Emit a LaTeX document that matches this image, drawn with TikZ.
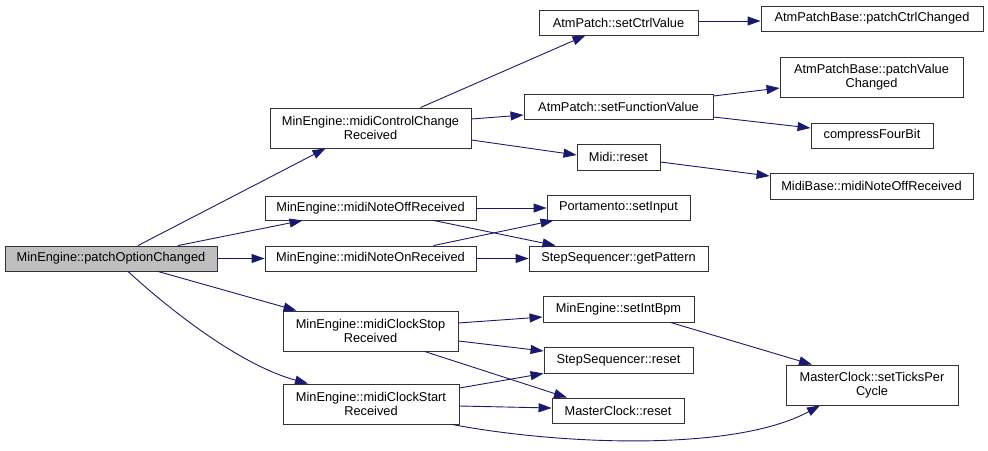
\documentclass[tikz,border=0pt]{standalone}
\usepackage{fontspec}
\setmainfont{Liberation Sans}
\usepackage{xcolor}
\usetikzlibrary{arrows.meta}
\definecolor{edgeblue}{HTML}{191970}
\definecolor{rootgray}{HTML}{BFBFBF}

\begin{document}
\begin{tikzpicture}[x=1pt,y=-1pt,
  fn/.style={draw=black!80,line width=0.9pt,inner sep=0pt,align=center,
    font=\fontsize{12.8}{14.5}\selectfont,minimum height=25pt},
  fntwo/.style={fn,minimum height=40pt},
  call/.style={draw=edgeblue,line width=0.9pt,
    -{Triangle[length=13pt,width=9pt]}}]
  \useasboundingbox (0,0) rectangle (988,450);
  \node[fn,fill=rootgray,minimum width=212pt] (poc) at (111,258.5)
    {MinEngine::patchOptionChanged};
  \node[fntwo,minimum width=201pt] (mcc) at (370.5,128)
    {MinEngine::midiControlChange\\Received};
  \node[fn,minimum width=211pt,minimum height=24pt] (noteOff) at (370.5,208)
    {MinEngine::midiNoteOffReceived};
  \node[fn,minimum width=211pt] (noteOn) at (370.5,258.5)
    {MinEngine::midiNoteOnReceived};
  \node[fntwo,minimum width=175pt] (clkStop) at (370.5,331)
    {MinEngine::midiClockStop\\Received};
  \node[fntwo,minimum width=176pt] (clkStart) at (371,404)
    {MinEngine::midiClockStart\\Received};
  \node[fn,minimum width=159pt] (setCtrl) at (618.5,22.5)
    {AtmPatch::setCtrlValue};
  \node[fn,minimum width=222pt] (patchCtrl) at (872,18.5)
    {AtmPatchBase::patchCtrlChanged};
  \node[fn,minimum width=189pt] (setFunc) at (618.5,106.5)
    {AtmPatch::setFunctionValue};
  \node[fntwo,minimum width=183pt] (patchVal) at (871.5,77)
    {AtmPatchBase::patchValue\\Changed};
  \node[fn,minimum width=122pt] (compress) at (872,135.5)
    {compressFourBit};
  \node[fn,minimum width=83pt,minimum height=26pt] (midiReset) at (618.5,157)
    {Midi::reset};
  \node[fn,minimum width=203pt,minimum height=26pt] (midiBase) at (871.5,186)
    {MidiBase::midiNoteOffReceived};
  \node[fn,minimum width=143pt] (porta) at (618.5,207.5)
    {Portamento::setInput};
  \node[fn,minimum width=179pt] (getPat) at (618.5,258.5)
    {StepSequencer::getPattern};
  \node[fn,minimum width=151pt,minimum height=26pt] (setBpm) at (618.5,309)
    {MinEngine::setIntBpm};
  \node[fn,minimum width=149pt,minimum height=26pt] (ssReset) at (618.5,360)
    {StepSequencer::reset};
  \node[fn,minimum width=132pt] (mcReset) at (618,410.5)
    {MasterClock::reset};
  \node[fntwo,minimum width=172pt] (setTicks) at (872,385)
    {MasterClock::setTicksPer\\Cycle};

  \draw[call] ([xshift=27]poc.north) -- ([xshift=-45]mcc.south);
  \draw[call] ([xshift=67]poc.north) -- ([xshift=-68]noteOff.south);
  \draw[call] (poc.east) -- (noteOn.west);
  \draw[call] ([xshift=47]poc.south) -- ([xshift=-74]clkStop.north);
  \draw[call] ([xshift=17]poc.south) .. controls (170,310) and (240,365)
    .. ([xshift=-63]clkStart.north);
  \draw[call] ([xshift=50]mcc.north) -- ([xshift=-33]setCtrl.south);
  \draw[call] ([yshift=9]mcc.east) -- ([yshift=-8.5]setFunc.west);
  \draw[call] ([yshift=-12]mcc.east) -- ([yshift=2]midiReset.west);
  \draw[call] ([yshift=1.5]setCtrl.east) -- ([yshift=-2.5]patchCtrl.west);
  \draw[call] ([yshift=10.5]setFunc.east) -- ([yshift=-11]patchVal.west);
  \draw[call] ([yshift=-10.5]setFunc.east) -- ([yshift=7.5]compress.west);
  \draw[call] ([yshift=-5]midiReset.east) -- ([yshift=10]midiBase.west);
  \draw[call] (noteOff.east) -- (noteOff.east -| porta.west);
  \draw[call] ([xshift=63]noteOff.south) -- ([xshift=-63]getPat.north);
  \draw[call] ([xshift=63]noteOn.north) -- ([xshift=-65]porta.south);
  \draw[call] (noteOn.east) -- (getPat.west);
  \draw[call] ([yshift=8]clkStop.east) -- ([yshift=-8]setBpm.west);
  \draw[call] ([yshift=-10]clkStop.east) -- ([yshift=9]ssReset.west);
  \draw[call] ([xshift=54]clkStop.south) -- ([xshift=-51]mcReset.north);
  \draw[call] ([yshift=16]clkStart.east) -- (ssReset.south west);
  \draw[call] ([yshift=-2]clkStart.east) -- ([yshift=2.5]mcReset.west);
  \draw[call] ([xshift=81]clkStart.south) .. controls (560,445) and (735,452)
    .. ([xshift=-52]setTicks.south);
  \draw[call] ([xshift=52]setBpm.south) -- ([xshift=-60]setTicks.north);
\end{tikzpicture}
\end{document}
